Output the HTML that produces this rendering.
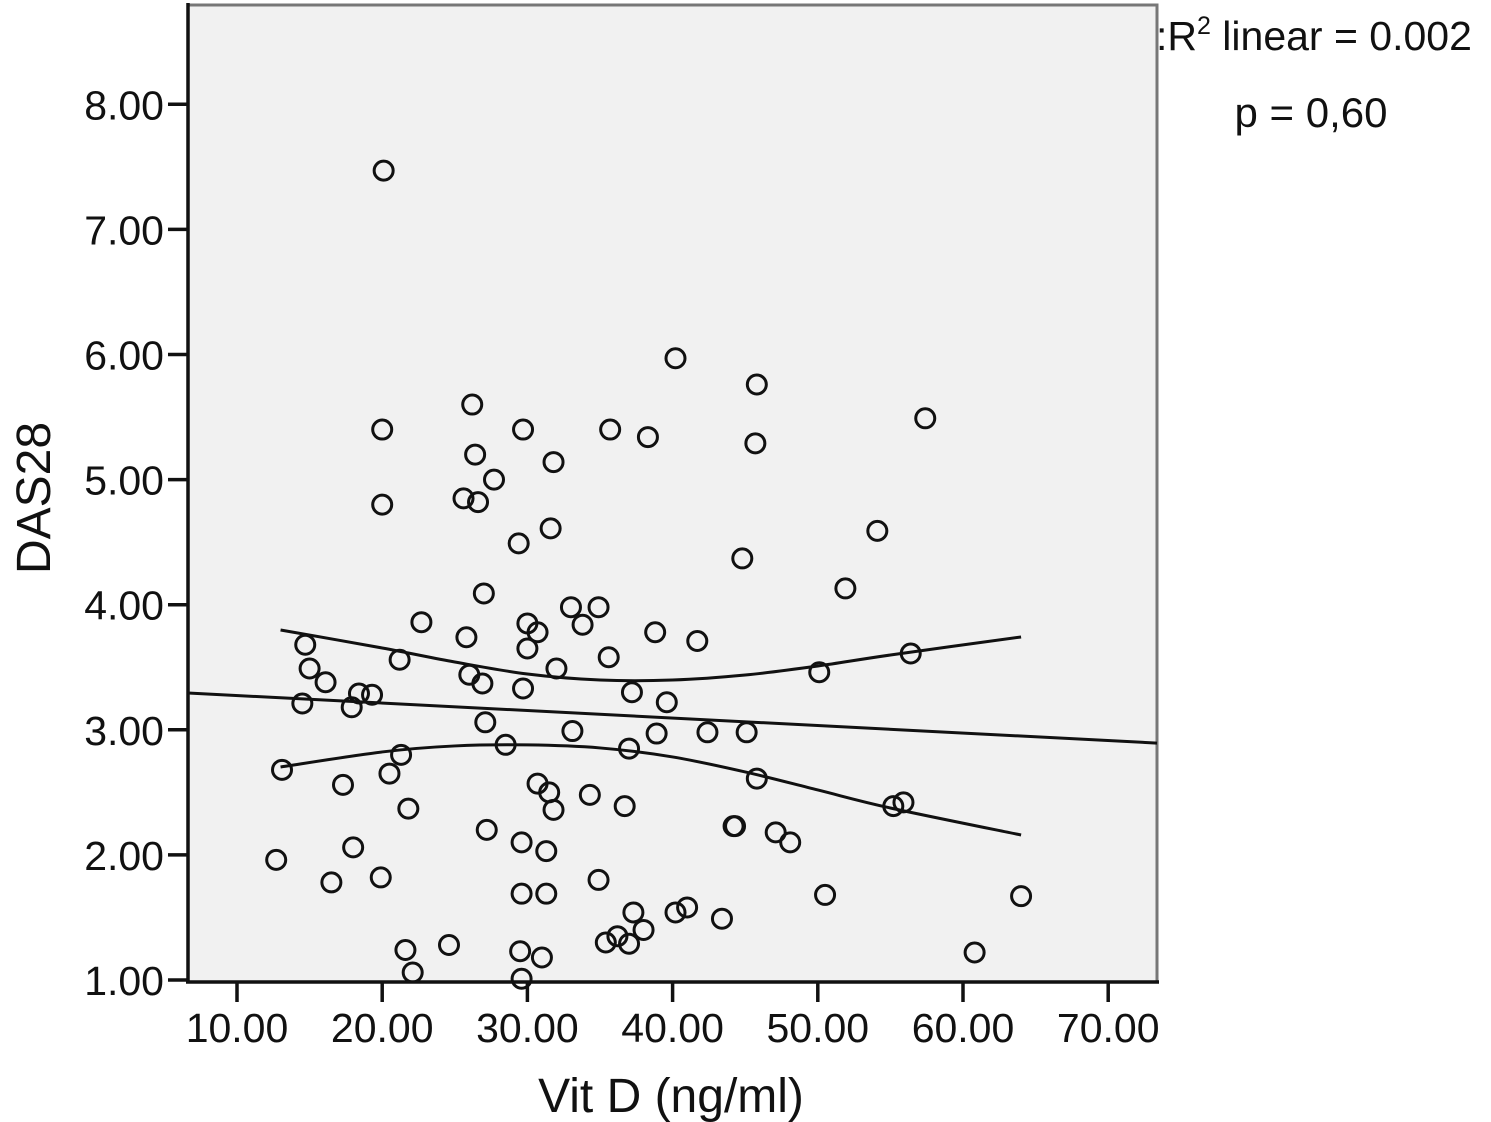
<!DOCTYPE html>
<html><head><meta charset="utf-8"><style>
html,body{margin:0;padding:0;background:#fff;}
svg{display:block;font-family:"Liberation Sans",Arial,sans-serif;}
</style></head><body>
<svg id="chart" width="1491" height="1122" viewBox="0 0 1491 1122" xmlns="http://www.w3.org/2000/svg">
<rect x="188" y="5" width="969" height="977" fill="#f1f1f1" stroke="#777" stroke-width="3"/>
<g id="bands"></g>
<g id="points"></g>
<g id="axes"></g>
<text x="671" y="1112" font-size="48" text-anchor="middle" fill="#111">Vit D (ng/ml)</text>
<text transform="translate(50,498) rotate(-90)" font-size="48" text-anchor="middle" fill="#111">DAS28</text>
<text x="1156" y="50" font-size="41" fill="#111">:R<tspan font-size="25" dy="-16">2</tspan><tspan dy="16"> linear = 0.002</tspan></text>
<text x="1311" y="127" font-size="42" text-anchor="middle" fill="#111">p = 0,60</text>
</svg>
<script>
const xTicks=[10,20,30,40,50,60,70];
const yTicks=[1,2,3,4,5,6,7,8];
const vitD=[20.1,40.2,45.8,57.4,26.2,20.0,29.7,35.7,38.3,45.7,26.4,31.8,27.7,25.6,26.6,20.0,31.6,54.1,29.4,44.8,51.9,27.0,22.7,33.0,34.9,33.8,30.0,30.7,38.8,25.8,41.7,30.0,14.7,35.6,21.2,15.0,32.0,16.1,26.0,26.9,56.4,50.1,29.7,37.2,18.4,19.3,14.5,39.6,17.9,27.1,33.1,38.9,42.4,45.1,28.5,37.0,21.3,13.1,20.5,45.8,17.3,30.7,31.5,34.3,21.8,31.8,36.7,55.2,55.9,44.3,44.2,47.1,48.1,27.2,29.6,31.3,18.0,12.7,19.9,16.5,34.9,29.6,31.3,50.5,64.0,41.0,40.2,37.3,43.4,38.0,36.2,35.4,37.0,24.6,21.6,29.5,31.0,60.8,22.1,29.6];
const das28=[7.47,5.97,5.76,5.49,5.60,5.40,5.40,5.40,5.34,5.29,5.20,5.14,5.00,4.85,4.82,4.80,4.61,4.59,4.49,4.37,4.13,4.09,3.86,3.98,3.98,3.84,3.85,3.78,3.78,3.74,3.71,3.65,3.68,3.58,3.56,3.49,3.49,3.38,3.44,3.37,3.61,3.46,3.33,3.30,3.29,3.28,3.21,3.22,3.18,3.06,2.99,2.97,2.98,2.98,2.88,2.85,2.80,2.68,2.65,2.61,2.56,2.57,2.50,2.48,2.37,2.36,2.39,2.39,2.42,2.23,2.23,2.18,2.10,2.20,2.10,2.03,2.06,1.96,1.82,1.78,1.80,1.69,1.69,1.68,1.67,1.58,1.54,1.54,1.49,1.40,1.35,1.30,1.29,1.28,1.24,1.23,1.18,1.22,1.06,1.01];
const fitCoef=[3.334,-0.006];
const bandX=[13,20,25,30,35,40,45,50,55,64];
const bandUpper=[3.798,3.654,3.542,3.446,3.398,3.398,3.438,3.510,3.598,3.742];
const bandLower=[2.703,2.823,2.871,2.879,2.855,2.783,2.663,2.519,2.375,2.159];

const NS='http://www.w3.org/2000/svg';
const X0=188,X1=1157,Y0=982;
function sx(v){return 237+(v-10)*14.52;}
function sy(v){return 980-(v-1)*125.1;}
function mk(t,a,p){const e=document.createElementNS(NS,t);for(const k in a)e.setAttribute(k,a[k]);p.appendChild(e);return e;}
const axes=document.getElementById('axes');
const l1=mk('line',{x1:X0,y1:3,x2:X0,y2:Y0+1,stroke:'#111','stroke-width':3.5},axes);


const l2=mk('line',{x1:X0-2,y1:Y0,x2:X1+2,y2:Y0,stroke:'#111','stroke-width':3.5},axes);


xTicks.forEach(v=>{
  const t=mk('line',{x1:sx(v),y1:Y0,x2:sx(v),y2:Y0+20,stroke:'#111','stroke-width':3.5},axes);
  
  
  const tx=mk('text',{x:sx(v),y:1042,'font-size':41,'text-anchor':'middle',fill:'#111'},axes);
  tx.textContent=v.toFixed(2);
  
  
});
yTicks.forEach(v=>{
  const t=mk('line',{x1:X0-20,y1:sy(v),x2:X0,y2:sy(v),stroke:'#111','stroke-width':3.5},axes);
  
  
  const tx=mk('text',{x:164,y:sy(v)+15,'font-size':41,'text-anchor':'end',fill:'#111'},axes);
  tx.textContent=v.toFixed(2);
  
  
});
const bands=document.getElementById('bands');
const xa=(X0-237)/14.52+10, xb=(X1-237)/14.52+10;
const fit=mk('line',{x1:sx(xa),y1:sy(fitCoef[0]+fitCoef[1]*xa),x2:sx(xb),y2:sy(fitCoef[0]+fitCoef[1]*xb),stroke:'#111','stroke-width':3},bands);


function smooth(xs,ys){
  const P=xs.map((x,i)=>[sx(x),sy(ys[i])]);
  let d='M'+P[0][0]+','+P[0][1];
  for(let i=0;i<P.length-1;i++){
    const p0=P[Math.max(0,i-1)],p1=P[i],p2=P[i+1],p3=P[Math.min(P.length-1,i+2)];
    const c1=[p1[0]+(p2[0]-p0[0])/6,p1[1]+(p2[1]-p0[1])/6];
    const c2=[p2[0]-(p3[0]-p1[0])/6,p2[1]-(p3[1]-p1[1])/6];
    d+=' C'+c1+' '+c2+' '+p2;
  }
  return d;
}
const up=mk('path',{d:smooth(bandX,bandUpper),fill:'none',stroke:'#111','stroke-width':3},bands);


const lo=mk('path',{d:smooth(bandX,bandLower),fill:'none',stroke:'#111','stroke-width':3},bands);


const pts=document.getElementById('points');
vitD.forEach((v,i)=>{
  const c=mk('circle',{cx:sx(v),cy:sy(das28[i]),r:9.5,fill:'none',stroke:'#111','stroke-width':3},pts);
  
  
});
</script>
</body></html>
